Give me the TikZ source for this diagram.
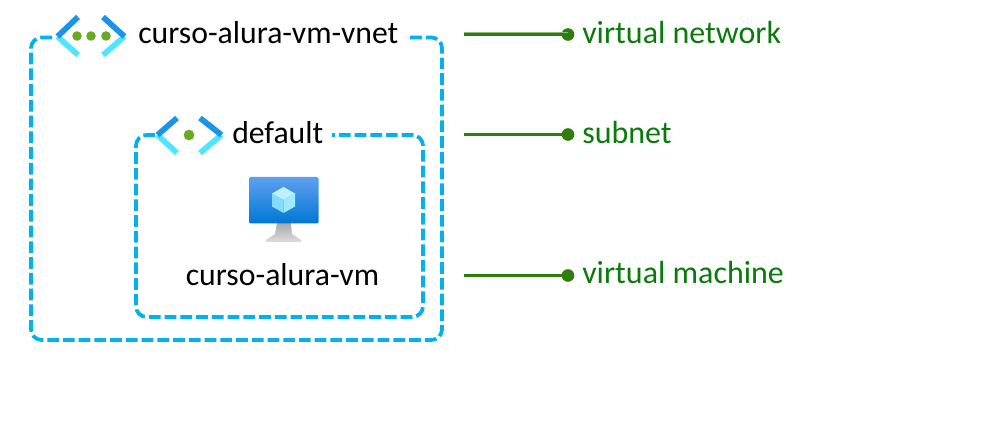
\documentclass[tikz,border=0pt]{standalone}
\usepackage{fontspec}
\setmainfont{Carlito}
\definecolor{boxblue}{HTML}{00B0F0}
\definecolor{chevdark}{HTML}{1B93EB}
\definecolor{chevlight}{HTML}{50E6FF}
\definecolor{dotgreen}{HTML}{6BA826}
\definecolor{linegreen}{HTML}{2F7D0C}
\definecolor{labgreen}{HTML}{0A7A0A}
\definecolor{montop}{HTML}{5EA0EF}
\definecolor{monbot}{HTML}{0078D4}
\definecolor{cubetop}{HTML}{C3F0FF}
\definecolor{cubeleft}{HTML}{82DCFA}
\definecolor{cuberight}{HTML}{A0E8FC}
\definecolor{standtop}{HTML}{A8A8A8}
\definecolor{standbot}{HTML}{DDDDDD}
\tikzset{
  dashbox/.style={draw=boxblue,line width=2.8pt,dash pattern=on 8.8pt off 3pt,rounded corners=8pt},
  chevA/.style={draw=chevdark,line width=4.3pt},
  chevB/.style={draw=chevlight,line width=4.3pt},
  dotstyle/.style={circle,fill=dotgreen,inner sep=0pt},
  lead/.style={draw=linegreen,line width=2.2pt},
  leadend/.style={circle,fill=linegreen,inner sep=0pt,minimum size=9.5pt},
  lab/.style={anchor=west,text=labgreen,font=\fontsize{24}{28}\selectfont,inner sep=0pt},
  txt/.style={text=black,font=\fontsize{23.8}{28}\selectfont,inner sep=0pt}
}
\begin{document}
\begin{tikzpicture}[x=0.75pt,y=-0.75pt]
\useasboundingbox (0,0) rectangle (1000,442);
\fill[white] (0,0) rectangle (1000,442);
% boxes
\draw[dashbox] (52,37.5) -- (31,37.5) -- (31,340) -- (442,340) -- (442,37.5) -- (406,37.5);
\draw[dashbox] (155,135) -- (136,135) -- (136,317) -- (423,317) -- (423,135) -- (332,135);
% large icon
\draw[chevB] (57.5,36.5) -- (78,55);
\draw[chevB] (124.5,36.5) -- (103,55);
\draw[chevA] (78,17) -- (57.5,36.5);
\draw[chevA] (103,17) -- (124.5,36.5);
\node[dotstyle,minimum size=7.2pt] (d1) at (77,36) {};
\node[dotstyle,minimum size=7.2pt] (d2) at (91,36) {};
\node[dotstyle,minimum size=7.2pt] (d3) at (106,36) {};
% small icon
\draw[chevB] (157.5,135) -- (177,153);
\draw[chevB] (221.5,135) -- (200,153);
\draw[chevA] (177,118) -- (157.5,135);
\draw[chevA] (200,118) -- (221.5,135);
\node[dotstyle,minimum size=8pt] (d4) at (189,135) {};
% monitor
\shade[top color=standtop,bottom color=standbot] (277,223) -- (291,223) -- (292,234) -- (301,240) -- (301,242) -- (266,242) -- (266,240) -- (275,234) -- cycle;
\shade[top color=montop,bottom color=monbot,rounded corners=1pt] (249,177) rectangle (318.5,223.5);
\fill[cubetop] (283.5,187) -- (295,193.5) -- (283.5,200) -- (272,193.5) -- cycle;
\fill[cubeleft] (272,193.5) -- (283.5,200) -- (283.5,213) -- (272,206.5) -- cycle;
\fill[cuberight] (295,193.5) -- (283.5,200) -- (283.5,213) -- (295,206.5) -- cycle;
% texts
\node[txt,anchor=base west] (vnet) at (138,44) {curso-alura-vm-vnet};
\node[txt,anchor=base west] (def) at (232,144) {default};
\node[txt,anchor=base] (vm) at (282.5,285) {curso-alura-vm};
% leaders
\coordinate (s1) at (464,34.5);
\coordinate (s2) at (464,134.5);
\coordinate (s3) at (464,275.5);
\node[leadend] (e1) at (568,34.5) {};
\node[leadend] (e2) at (568,134.5) {};
\node[leadend] (e3) at (568,275.5) {};
\draw[draw=linegreen!55!white,line width=3pt] (s1) -- (e1.center);
\draw[lead,line width=1.6pt] (s1) -- (e1.center);
\draw[lead] (s2) -- (e2.center);
\draw[lead] (s3) -- (e3.center);
\node[lab] (l1) at (582,33) {virtual network};
\node[lab] (l2) at (582,133) {subnet};
\node[lab] (l3) at (582,273) {virtual machine};
\end{tikzpicture}
\end{document}
